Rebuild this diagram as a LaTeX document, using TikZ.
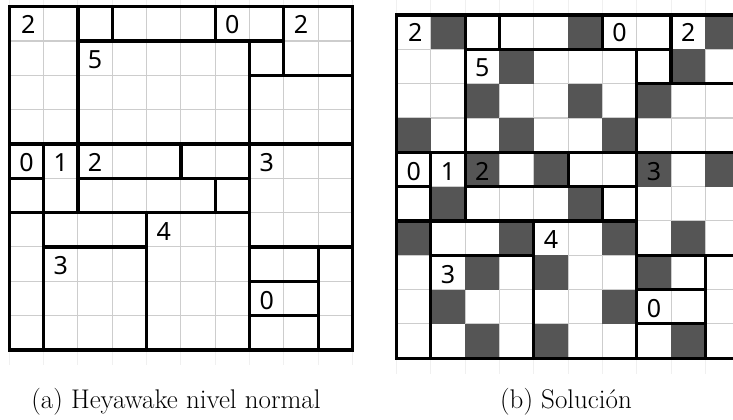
\documentclass[tikz,border=0pt]{standalone}
\usepackage{fontspec}
\newfontfamily\digitfont{Noto Sans}
\definecolor{gridgray}{RGB}{205,205,205}
\definecolor{faintgray}{RGB}{240,240,240}
\definecolor{darkcell}{RGB}{85,85,85}
\tikzset{
  thinline/.style={draw=gridgray, line width=1.1pt},
  faintline/.style={draw=faintgray, line width=1.1pt},
  wall/.style={draw=black, line width=3.2pt, line cap=rect, line join=miter},
  clue/.style={font=\digitfont\fontsize{25}{25}\selectfont, inner sep=0pt, anchor=center},
  captiontext/.style={font=\fontsize{27}{31}\selectfont, anchor=base, inner sep=0pt}
}
\newcommand\heyathin{%
  \foreach \i in {0,...,10} {\draw[faintline] (\i,-0.45) -- (\i,0) (\i,10) -- (\i,10.45);}
  \foreach \i in {1,...,9} {\draw[thinline] (\i,0) -- (\i,10) (0,\i) -- (10,\i);}
}
\newcommand\heyawalls{%
  \draw[wall] (0,0) rectangle (10,10);
  \draw[wall] (2,1) -- (8,1) (7,2) -- (10,2) (0,4) -- (10,4)
    (0,5) -- (1,5) (2,5) -- (7,5) (0,6) -- (7,6)
    (1,7) -- (4,7) (7,7) -- (10,7) (7,8) -- (9,8) (7,9) -- (9,9)
    (1,4) -- (1,10) (2,0) -- (2,6) (3,0) -- (3,1) (4,6) -- (4,10)
    (5,4) -- (5,5) (6,0) -- (6,1) (6,5) -- (6,6) (7,1) -- (7,10)
    (8,0) -- (8,2) (9,7) -- (9,10);
}
\newcommand\heyaclues[1]{%
  \node[clue] (#1a) at (0.55,0.52) {2};
  \node[clue] (#1b) at (2.5,1.55) {5};
  \node[clue] (#1c) at (6.5,0.52) {0};
  \node[clue] (#1d) at (8.5,0.52) {2};
  \node[clue] (#1e) at (0.5,4.55) {0};
  \node[clue] (#1f) at (1.5,4.55) {1};
  \node[clue] (#1g) at (2.5,4.55) {2};
  \node[clue] (#1h) at (7.5,4.55) {3};
  \node[clue] (#1i) at (4.5,6.55) {4};
  \node[clue] (#1j) at (1.5,7.55) {3};
  \node[clue] (#1k) at (7.5,8.55) {0};
}
\begin{document}
\begin{tikzpicture}[x=1pt,y=-1pt]
\useasboundingbox (0,0) rectangle (733,420);
\fill[white] (0,0) rectangle (733,420);
\clip (0,0) rectangle (733,420);
% puzzle
\begin{scope}[shift={(9.3,6.7)}, x=34.32pt, y=-34.32pt]
  \heyathin
  \heyawalls
  \heyaclues{p}
\end{scope}
% solution
\begin{scope}[shift={(396.5,15)}, x=34.32pt, y=-34.32pt]
  \heyathin
  \foreach \c/\r in {1/0,5/0,9/0, 3/1,8/1, 2/2,5/2,7/2, 0/3,3/3,6/3,
                     2/4,4/4,7/4,9/4, 1/5,5/5, 0/6,3/6,6/6,8/6,
                     2/7,4/7,7/7, 1/8,6/8, 2/9,4/9,8/9}
    {\fill[darkcell] (\c,\r) rectangle ++(1,1);}
  \heyawalls
  \heyaclues{s}
\end{scope}
\node[captiontext] (capa) at (176,408.5) {(a) Heyawake nivel normal};
\node[captiontext] (capb) at (566,408.5) {(b) Solución};
\end{tikzpicture}
\end{document}
